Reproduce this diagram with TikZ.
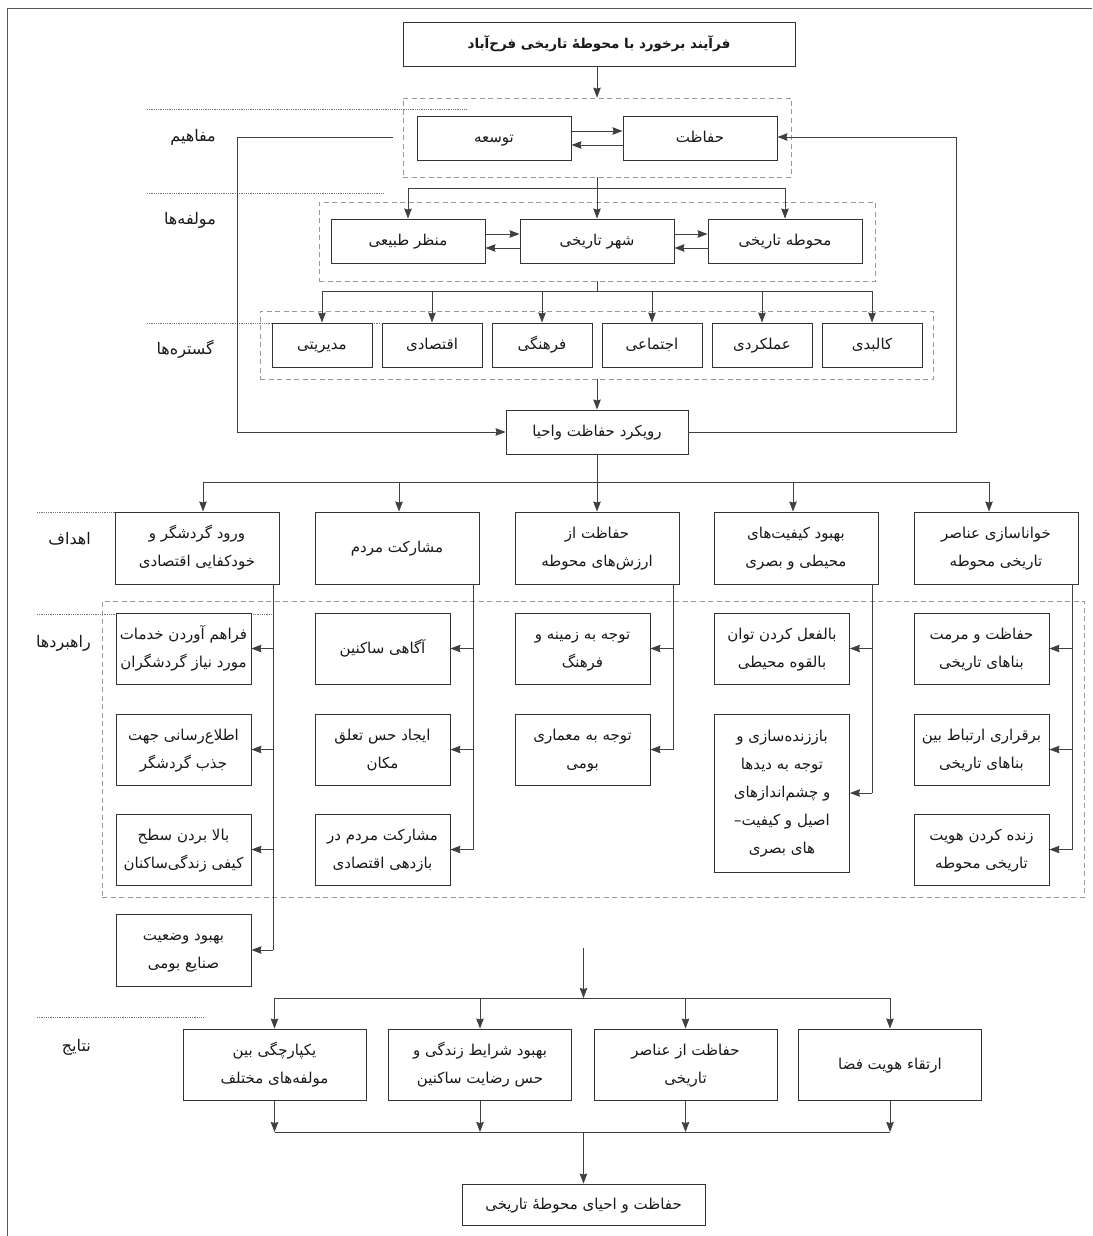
\documentclass[tikz,border=0pt]{standalone}
\usepackage{fontspec}
\usetikzlibrary{arrows.meta,calc}
\newfontfamily\arabicfont[Script=Arabic]{DejaVu Sans}
\TeXXeTstate=1
\newcommand{\fa}[1]{\beginR\rule[-5pt]{0pt}{19pt}#1\endR}
\definecolor{boxc}{gray}{0.2}
\definecolor{linec}{gray}{0.25}
\definecolor{dashc}{gray}{0.6}
\definecolor{dotc}{gray}{0.45}
\definecolor{textc}{gray}{0.1}
\definecolor{framec}{gray}{0.35}
\begin{document}
\begin{tikzpicture}[x=1pt,y=-1pt,
  box/.style={draw=boxc, line width=0.9pt, fill=white, align=center, inner sep=1pt, text=textc,
    font=\arabicfont\fontsize{15}{28}\selectfont},
  dashbox/.style={draw=dashc, line width=0.7pt, dash pattern=on 5pt off 3.5pt, inner sep=0pt},
  sepline/.style={draw=dotc, line width=0.6pt, dash pattern=on 0.7pt off 1.1pt},
  conn/.style={draw=linec, line width=0.9pt},
  arr/.style={conn, -{Stealth[length=10pt,width=7.5pt,inset=1pt]}},
  lbl/.style={font=\arabicfont\fontsize{16}{18}\selectfont, anchor=east, inner sep=0pt, text=textc},
  sA/.style={box, minimum width=164pt, minimum height=72pt},
  sB/.style={box, minimum width=135pt, minimum height=71pt},
  sR/.style={box, minimum width=100pt, minimum height=44pt},
  sQ/.style={box, minimum width=183pt, minimum height=71pt},
  sC/.style={box, minimum width=154pt, minimum height=44pt}]
\useasboundingbox (0,0) rectangle (1092,1236);
% frame
\draw[framec, line width=1.1pt] (7.5,1236) -- (7.5,8.5) -- (1092,8.5);

% dashed groups
\node[dashbox, minimum width=388pt, minimum height=79pt] (d1) at (597,137.5) {};
\node[dashbox, minimum width=556pt, minimum height=79pt] (d2) at (597,241.5) {};
\node[dashbox, minimum width=673pt, minimum height=68pt] (d3) at (596.5,345) {};
\node[dashbox, minimum width=982pt, minimum height=296pt] (d4) at (593,749) {};

% dotted separators
\draw[sepline] (147,109) -- (467,109);
\draw[sepline] (147,193) -- (383,193);
\draw[sepline] (147,323) -- (380,323);
\draw[sepline] (37,512) -- (272,512);
\draw[sepline] (37,614) -- (272,614);
\draw[sepline] (37,1017) -- (204,1017);

% section labels
\node[lbl] (l1) at (216,137) {\fa{مفاهیم}};
\node[lbl] (l2) at (216,220) {\fa{مولفه^^^^200cها}};
\node[lbl] (l3) at (214,350) {\fa{گستره^^^^200cها}};
\node[lbl] (l4) at (91,540) {\fa{اهداف}};
\node[lbl] (l5) at (91,643) {\fa{راهبردها}};
\node[lbl] (l6) at (91,1047) {\fa{نتایج}};

% title
\node[box, font=\arabicfont\bfseries\fontsize{13.5}{16}\selectfont, minimum width=392pt, minimum height=44pt] (title) at (599,44)
  {\fa{فرآیند برخورد با محوطه^^^^0654 تاریخی فرح^^^^200cآباد}};
\draw[arr] (title.south -| d1.north) -- (d1.north);

% concepts
\node[sC] (taw) at (494,138) {\fa{توسعه}};
\node[sC] (hef) at (700,138) {\fa{حفاظت}};
\draw[arr] ([yshift=7pt]taw.east) -- ([yshift=7pt]hef.west);
\draw[arr] ([yshift=-7pt]hef.west) -- ([yshift=-7pt]taw.east);

% components
\node[sC] (man) at (408,241) {\fa{منظر طبیعی}};
\node[sC] (shr) at (597,241) {\fa{شهر تاریخی}};
\node[sC] (mhv) at (785,241) {\fa{محوطه تاریخی}};
\coordinate (b1) at (597,188);
\draw[conn] (d1.south) -- (b1);
\draw[conn] (man.north |- b1) -- (mhv.north |- b1);
\foreach \n in {man,shr,mhv} \draw[arr] (\n.north |- b1) -- (\n.north);
\draw[arr] ([yshift=7pt]man.east) -- ([yshift=7pt]shr.west);
\draw[arr] ([yshift=-7pt]shr.west) -- ([yshift=-7pt]man.east);
\draw[arr] ([yshift=7pt]shr.east) -- ([yshift=7pt]mhv.west);
\draw[arr] ([yshift=-7pt]mhv.west) -- ([yshift=-7pt]shr.east);

% domains
\node[sR] (r1) at (322,345) {\fa{مدیریتی}};
\node[sR] (r2) at (432,345) {\fa{اقتصادی}};
\node[sR] (r3) at (542,345) {\fa{فرهنگی}};
\node[sR] (r4) at (652,345) {\fa{اجتماعی}};
\node[sR] (r5) at (762,345) {\fa{عملکردی}};
\node[sR] (r6) at (872,345) {\fa{کالبدی}};
\coordinate (b2) at (597,291);
\draw[conn] (d2.south) -- (b2);
\draw[conn] (r1.north |- b2) -- (r6.north |- b2);
\foreach \n in {r1,r2,r3,r4,r5,r6} \draw[arr] (\n.north |- b2) -- (\n.north);

% approach
\node[box, minimum width=182pt, minimum height=44pt] (app) at (597,432) {\fa{رویکرد حفاظت واحیا}};
\draw[arr] (app.north |- d3.south) -- (app.north);
\coordinate (fbl) at (393,137);
\coordinate (fbL) at (237,137);
\coordinate (fbR) at (956,432);
\draw[arr] (fbl) -- (fbL) |- (app.west);
\draw[arr] (app.east) -- (fbR) |- ([yshift=1pt]hef.east);

% goals
\node[sA] (g1) at (197,548) {\fa{ورود گردشگر و}\\\fa{خودکفایی اقتصادی}};
\node[sA] (g2) at (397,548) {\fa{مشارکت مردم}};
\node[sA] (g3) at (597,548) {\fa{حفاظت از}\\\fa{ارزش^^^^200cهای محوطه}};
\node[sA] (g4) at (796,548) {\fa{بهبود کیفیت^^^^200cهای}\\\fa{محیطی و بصری}};
\node[sA] (g5) at (996,548) {\fa{خواناسازی عناصر}\\\fa{تاریخی محوطه}};
\coordinate (b3) at (597,482);
\draw[conn] (app.south) -- (b3);
\draw[conn] ([xshift=6pt]g1.north |- b3) -- ([xshift=-7pt]g5.north |- b3);
\draw[arr] ([xshift=6pt]g1.north |- b3) -- ([xshift=6pt]g1.north);
\draw[arr] ([xshift=2pt]g2.north |- b3) -- ([xshift=2pt]g2.north);
\draw[arr] (g3.north |- b3) -- (g3.north);
\draw[arr] ([xshift=-3pt]g4.north |- b3) -- ([xshift=-3pt]g4.north);
\draw[arr] ([xshift=-7pt]g5.north |- b3) -- ([xshift=-7pt]g5.north);

% strategies
\node[sB] (s1a) at (183.5,648.5) {\fa{فراهم آوردن خدمات}\\\fa{مورد نیاز گردشگران}};
\node[sB] (s1b) at (183.5,749.5) {\fa{اطلاع^^^^200cرسانی جهت}\\\fa{جذب گردشگر}};
\node[sB] (s1c) at (183.5,849.5) {\fa{بالا بردن سطح}\\\fa{کیفی زندگی^^^^200cساکنان}};
\node[box, minimum width=135pt, minimum height=72pt] (s1d) at (183.5,950) {\fa{بهبود وضعیت}\\\fa{صنایع بومی}};
\node[sB] (s2a) at (382.5,648.5) {\fa{آگاهی ساکنین}};
\node[sB] (s2b) at (382.5,749.5) {\fa{ایجاد حس تعلق}\\\fa{مکان}};
\node[sB] (s2c) at (382.5,849.5) {\fa{مشارکت مردم در}\\\fa{بازدهی اقتصادی}};
\node[sB] (s3a) at (582.5,648.5) {\fa{توجه به زمینه و}\\\fa{فرهنگ}};
\node[sB] (s3b) at (582.5,749.5) {\fa{توجه به معماری}\\\fa{بومی}};
\node[sB] (s4a) at (782,648.5) {\fa{بالفعل کردن توان}\\\fa{بالقوه محیطی}};
\node[box, minimum width=135pt, minimum height=158pt] (s4b) at (782,793)
  {\fa{باززنده^^^^200cسازی و}\\\fa{توجه به دیدها}\\\fa{و چشم^^^^200cاندازهای}\\\fa{اصیل و کیفیت\kern0pt–}\\\fa{های بصری}};
\node[sB] (s5a) at (981.5,648.5) {\fa{حفاظت و مرمت}\\\fa{بناهای تاریخی}};
\node[sB] (s5b) at (981.5,749.5) {\fa{برقراری ارتباط بین}\\\fa{بناهای تاریخی}};
\node[sB] (s5c) at (981.5,849.5) {\fa{زنده کردن هویت}\\\fa{تاریخی محوطه}};

\coordinate (sp1) at ($(g1.south east)+(-6,0)$);
\coordinate (sp2) at ($(g2.south east)+(-6,0)$);
\coordinate (sp3) at ($(g3.south east)+(-6,0)$);
\coordinate (sp4) at ($(g4.south east)+(-6,0)$);
\coordinate (sp5) at ($(g5.south east)+(-6,0)$);
\draw[conn] (sp1) -- (sp1 |- s1d.east);
\foreach \n in {s1a,s1b,s1c,s1d} \draw[arr] (sp1 |- \n.east) -- (\n.east);
\draw[conn] (sp2) -- (sp2 |- s2c.east);
\foreach \n in {s2a,s2b,s2c} \draw[arr] (sp2 |- \n.east) -- (\n.east);
\draw[conn] (sp3) -- (sp3 |- s3b.east);
\foreach \n in {s3a,s3b} \draw[arr] (sp3 |- \n.east) -- (\n.east);
\draw[conn] (sp4) -- (sp4 |- s4b.east);
\foreach \n in {s4a,s4b} \draw[arr] (sp4 |- \n.east) -- (\n.east);
\draw[conn] (sp5) -- (sp5 |- s5c.east);
\foreach \n in {s5a,s5b,s5c} \draw[arr] (sp5 |- \n.east) -- (\n.east);

% results
\node[sQ] (q1) at (274.5,1064.5) {\fa{یکپارچگی بین}\\\fa{مولفه^^^^200cهای مختلف}};
\node[sQ] (q2) at (480,1064.5) {\fa{بهبود شرایط زندگی و}\\\fa{حس رضایت ساکنین}};
\node[sQ] (q3) at (685.5,1064.5) {\fa{حفاظت از عناصر}\\\fa{تاریخی}};
\node[sQ] (q4) at (890,1064.5) {\fa{ارتقاء هویت فضا}};
\node[box, minimum width=243pt, minimum height=41pt] (fin) at (583.5,1204.5) {\fa{حفاظت و احیای محوطه^^^^0654 تاریخی}};

\coordinate (fr) at (583.5,948);
\coordinate (b4) at (583.5,998);
\coordinate (b5) at (583.5,1132);
\draw[arr] (fr) -- (b4);
\draw[conn] (q1.north |- b4) -- (q4.north |- b4);
\foreach \n in {q1,q2,q3,q4} \draw[arr] (\n.north |- b4) -- (\n.north);
\draw[conn] (q1.south |- b5) -- (q4.south |- b5);
\foreach \n in {q1,q2,q3,q4} \draw[arr] (\n.south) -- (\n.south |- b5);
\draw[arr] (fin.north |- b5) -- (fin.north);
\end{tikzpicture}
\end{document}
